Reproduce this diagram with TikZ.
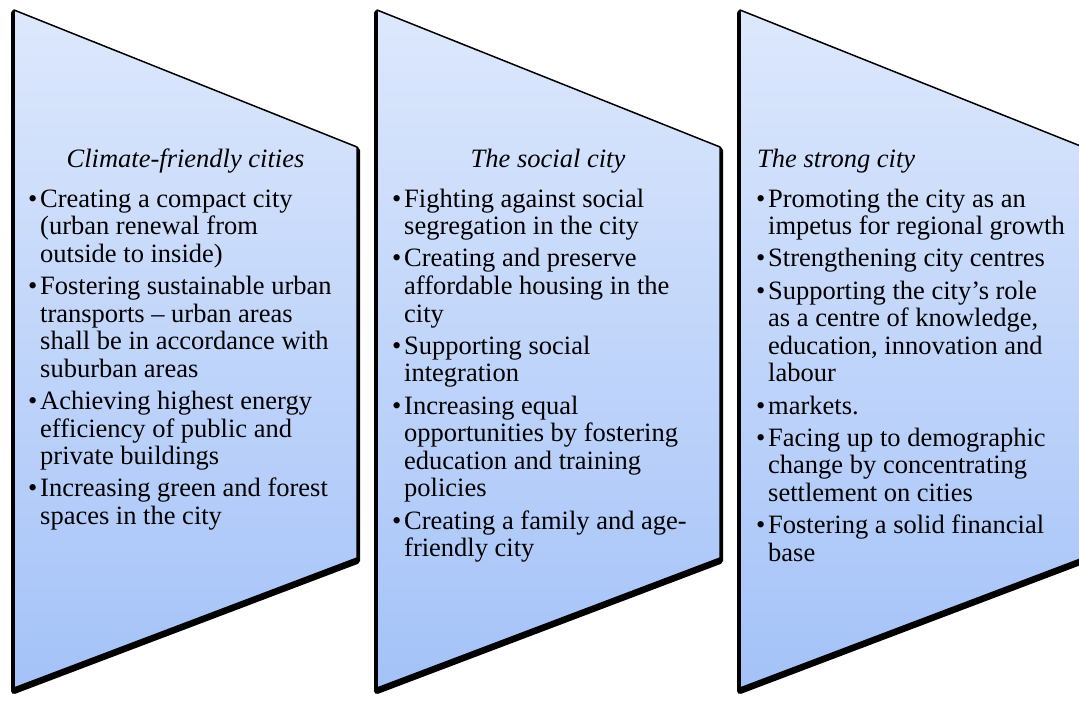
\documentclass[tikz,border=0pt]{standalone}
\usepackage{fontspec}
\setmainfont{Liberation Serif}
\usepackage{xcolor}

\definecolor{paneltop}{RGB}{221,232,252}
\definecolor{panelbot}{RGB}{164,194,248}

% bullet list set as one \vtop, so the node's base is the first line
\newlength{\bulw}\setlength{\bulw}{12pt}
\newcommand{\cityitem}[1]{\par\hangindent=\bulw\hangafter=1\noindent\hbox to \bulw{\textbullet\hss}#1\par}
\newcommand{\citylist}[1]{\vtop{\hsize=340pt\raggedright\fontsize{26.5}{27.6}\selectfont\parskip=4.6pt\parindent=0pt #1}}

\tikzset{
  panel/.style={top color=paneltop, bottom color=panelbot, draw=black, line width=1.5pt, line join=round},
  panelshadow/.style={draw=black, fill=black, line width=6pt, line join=round},
  heading/.style={font=\fontsize{26.5}{27.6}\selectfont\itshape, inner sep=0pt},
  points/.style={anchor=base west, inner sep=0pt},
}

\begin{document}
\begin{tikzpicture}[x=1pt, y=-1pt]
  \useasboundingbox (0,0) rectangle (1079,702);
  \clip (0,0) rectangle (1079,702);

  % the three chevron panels, shadow first
  \foreach \panelx in {14,377,740} {
    \path[panelshadow] (\panelx,13) -- ++(343,137) -- ++(0,411) -- (\panelx,691) -- cycle;
    \path[panel] (\panelx,10) -- ++(343,137) -- ++(0,411) -- (\panelx,688) -- cycle;
  }

  % headings
  \node[heading, anchor=base] (climate) at (185.5,167) {Climate-friendly cities};
  \node[heading, anchor=base] (social) at (548,167) {The social city};
  \node[heading, anchor=base west] (strong) at (757,167) {The strong city};

  % bullet points
  \node[points] (climatelist) at (28,207) {\citylist{%
    \cityitem{Creating a compact city\newline (urban renewal from\newline outside to inside)}
    \cityitem{Fostering sustainable urban\newline transports -- urban areas\newline shall be in accordance with\newline suburban areas}
    \cityitem{Achieving highest energy\newline efficiency of public and\newline private buildings}
    \cityitem{Increasing green and forest\newline spaces in the city}}};

  \node[points] (sociallist) at (392,207) {\citylist{%
    \cityitem{Fighting against social\newline segregation in the city}
    \cityitem{Creating and preserve\newline affordable housing in the\newline city}
    \cityitem{Supporting social\newline integration}
    \cityitem{Increasing equal\newline opportunities by fostering\newline education and training\newline policies}
    \cityitem{Creating a family and age-\newline friendly city}}};

  \node[points] (stronglist) at (756,207) {\citylist{%
    \cityitem{Promoting the city as an\newline impetus for regional growth}
    \cityitem{Strengthening city centres}
    \cityitem{Supporting the city’s role\newline as a centre of knowledge,\newline education, innovation and\newline labour}
    \cityitem{markets.}
    \cityitem{Facing up to demographic\newline change by concentrating\newline settlement on cities}
    \cityitem{Fostering a solid financial\newline base}}};
\end{tikzpicture}
\end{document}
